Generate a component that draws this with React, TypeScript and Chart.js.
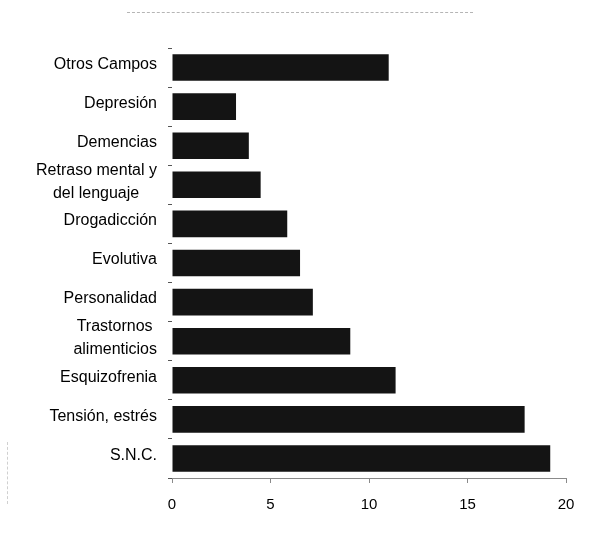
import React, { useEffect, useRef } from "react";
import { Chart, registerables } from "chart.js";

Chart.register(...registerables);

const categories: string[][] = [
  ["Otros Campos"],
  ["Depresión"],
  ["Demencias"],
  ["Retraso mental y", "del lenguaje"],
  ["Drogadicción"],
  ["Evolutiva"],
  ["Personalidad"],
  ["Trastornos", "alimenticios"],
  ["Esquizofrenia"],
  ["Tensión, estrés"],
  ["S.N.C."],
];

const values: number[] = [11.0, 3.25, 3.9, 4.5, 5.85, 6.5, 7.15, 9.05, 11.35, 17.9, 19.2];

const xTicks: number[] = [0, 5, 10, 15, 20];

const FONT = '"Liberation Sans", Arial, sans-serif';
const Y_FONT_SIZE = 16;
const X_FONT_SIZE = 15;

function centerLines(lines: string[]): string[] {
  if (lines.length < 2) return lines;
  const c = document.createElement("canvas").getContext("2d");
  if (!c) return lines;
  c.font = `${Y_FONT_SIZE}px ${FONT}`;
  const widths = lines.map((l) => c.measureText(l).width);
  const max = Math.max(...widths);
  const sp = c.measureText(" ").width || 4;
  return lines.map((l, i) => l + " ".repeat(Math.round((max - widths[i]) / 2 / sp)));
}

export default function App() {
  const ref = useRef<HTMLCanvasElement | null>(null);

  useEffect(() => {
    if (!ref.current) return;
    const chart = new Chart(ref.current, {
      type: "bar",
      data: {
        labels: categories.map((c) => c.join(" ")),
        datasets: [
          {
            data: values,
            backgroundColor: "#141414",
            borderWidth: 0,
            barPercentage: 0.68,
            categoryPercentage: 1,
          },
        ],
      },
      options: {
        indexAxis: "y",
        animation: false,
        responsive: false,
        maintainAspectRatio: false,
        events: [],
        layout: { padding: { top: 48, right: 36, bottom: 14, left: 0 } },
        plugins: { legend: { display: false }, tooltip: { enabled: false }, title: { display: false } },
        scales: {
          x: {
            type: "linear",
            min: 0,
            max: 20,
            afterBuildTicks: (scale: any) => {
              scale.ticks = xTicks.map((v) => ({ value: v }));
            },
            border: { display: true, color: "#8a8a8a", width: 1 },
            grid: { display: true, drawOnChartArea: false, drawTicks: true, tickLength: 5, color: "#8a8a8a" },
            ticks: {
              color: "#000",
              font: { family: FONT, size: X_FONT_SIZE },
              padding: 13,
              maxRotation: 0,
            },
          },
          y: {
            type: "category",
            afterFit: (scale: any) => {
              scale.width = 172;
            },
            border: { display: false },
            grid: { display: true, drawOnChartArea: false, drawTicks: true, tickLength: 4, color: "#555", offset: true },
            ticks: {
              color: "#000",
              font: { family: FONT, size: Y_FONT_SIZE, lineHeight: 1.45 },
              padding: 11,
              labelOffset: -3,
              autoSkip: false,
              callback: (_v: any, index: number) => centerLines(categories[index]),
            },
          },
        },
      },
    });
    return () => chart.destroy();
  }, []);

  return (
    <div style={{ position: "absolute", left: 0, top: 0, width: 602, height: 541, background: "#fff" }}>
      <div style={{ position: "absolute", left: 127, top: 12, width: 346, borderTop: "1px dashed #b5b5b5" }} />
      <div style={{ position: "absolute", left: 7, top: 442, height: 62, borderLeft: "1px dashed #d0d0d0" }} />
      <canvas ref={ref} width={602} height={541} style={{ position: "absolute", left: 0, top: 0, width: 602, height: 541 }} />
    </div>
  );
}
